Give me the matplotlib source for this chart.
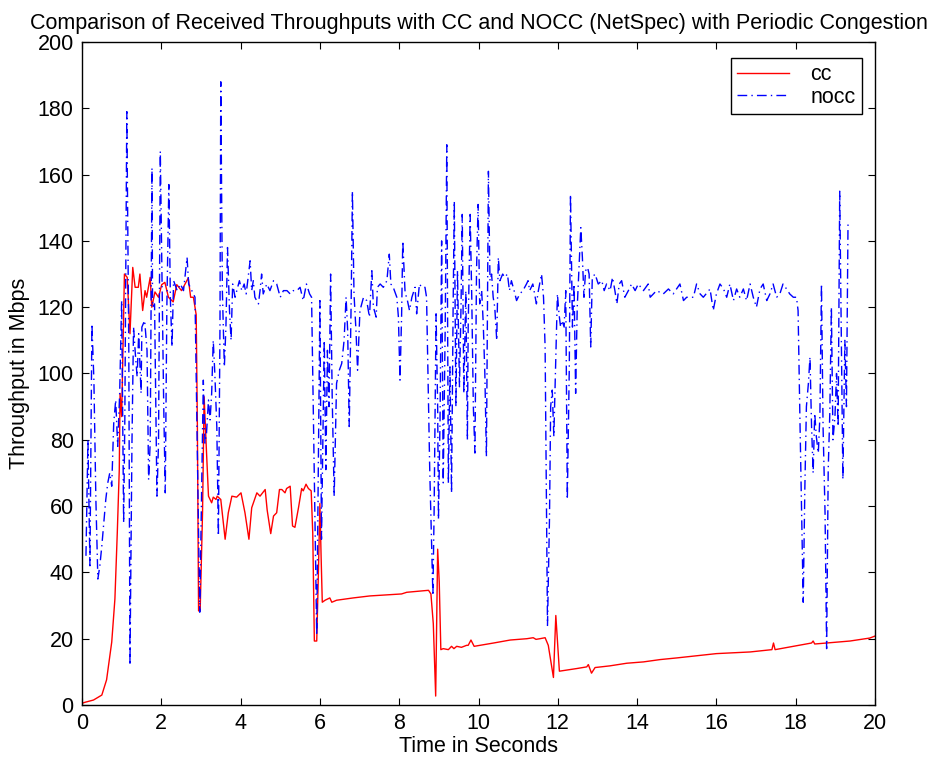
import matplotlib
matplotlib.use("Agg")
import matplotlib.pyplot as plt

plt.rcParams['font.family'] = ['Liberation Sans', 'DejaVu Sans']

# cc (with congestion control) throughput
cc_t = [0, 0.07, 0.29, 0.5, 0.62, 0.75, 0.83, 0.89, 0.94, 0.96,
        1.0, 1.07, 1.14, 1.21, 1.28, 1.34, 1.42, 1.46, 1.53, 1.59,
        1.63, 1.72, 1.76, 1.84, 1.93, 2.01, 2.09, 2.18, 2.30, 2.39,
        2.51, 2.68, 2.74, 2.81, 2.88, 2.91, 2.94, 2.98, 3.04, 3.08,
        3.13, 3.19, 3.27, 3.31, 3.38, 3.41, 3.50, 3.61, 3.69, 3.78,
        3.90, 4.01, 4.11, 4.21, 4.28, 4.41, 4.49, 4.62, 4.67, 4.76,
        4.83, 4.91, 4.98, 5.04, 5.12, 5.16, 5.25, 5.31, 5.37, 5.46,
        5.54, 5.58, 5.65, 5.71, 5.78, 5.82, 5.86, 5.92, 5.96, 6.0,
        6.03, 6.06, 6.13, 6.25, 6.3, 6.42, 6.84, 7.26, 7.68, 8.06,
        8.19, 8.74, 8.8, 8.86, 8.92, 8.97, 9.01, 9.05, 9.11, 9.24,
        9.32, 9.38, 9.45, 9.57, 9.7, 9.74, 9.81, 9.89, 10.38, 10.8,
        11.22, 11.38, 11.45, 11.55, 11.68, 11.76, 11.89, 11.95, 12.04, 12.48,
        12.73, 12.77, 12.85, 12.94, 13.31, 13.74, 14.16, 14.58, 15.0, 16.0,
        16.85, 17.4, 17.44, 17.48, 17.94, 18.4, 18.44, 18.48, 19.37, 19.87,
        20.0]
cc_v = [0.5, 0.8, 1.5, 3, 7.6, 19, 32, 52, 71, 94,
        87, 130, 129, 112, 132, 126, 126, 130, 119, 125,
        123, 129, 120, 124.6, 123, 126.8, 127.5, 123, 121.6, 126.8,
        125, 128.8, 123, 123, 117.7, 84, 28.4, 28.4, 58, 93,
        79, 63, 61, 62.7, 62, 63, 62, 50, 58, 63,
        62.7, 64, 58, 50, 59.5, 64, 63, 65, 58.8, 51.7,
        57, 58, 65, 65, 64, 65.3, 66, 54, 53.6, 59.5,
        65.3, 64.6, 66.6, 65.3, 64.6, 51.7, 19.3, 19.3, 38.7, 60.8,
        45, 31, 31.6, 32.3, 31, 31.6, 32.3, 32.9, 33.2, 33.5,
        34, 34.6, 33.5, 24.5, 2.7, 47, 37, 16.7, 17, 16.7,
        17.7, 17, 17.7, 17.4, 18, 18, 19.6, 17.7, 18.7, 19.6,
        20, 20.3, 19.8, 20, 20.3, 18, 8.3, 27, 10.2, 11,
        11.5, 12.2, 9.6, 11.3, 11.8, 12.6, 13, 13.7, 14.2, 15.5,
        16, 16.7, 18.7, 16.7, 17.7, 18.7, 19.3, 18.4, 19.3, 20.2,
        20.8]

# nocc (no congestion control) throughput
nocc_t = [0.10, 0.15, 0.20, 0.25, 0.30, 0.35, 0.40, 0.45, 0.50, 0.55,
          0.60, 0.65, 0.70, 0.75, 0.80, 0.85, 0.90, 0.95, 1.00, 1.05,
          1.08, 1.13, 1.18, 1.21, 1.26, 1.30, 1.345, 1.39, 1.43, 1.49,
          1.51, 1.58, 1.64, 1.68, 1.72, 1.765, 1.78, 1.83, 1.89, 1.93,
          1.975, 2.02, 2.06, 2.10, 2.14, 2.19, 2.23, 2.27, 2.31, 2.40,
          2.48, 2.56, 2.65, 2.69, 2.77, 2.85,
          2.97, 3.06, 3.10, 3.14, 3.19, 3.23, 3.27, 3.31, 3.35, 3.40,
          3.44, 3.48, 3.50, 3.54, 3.59, 3.63, 3.67, 3.72, 3.76, 3.80,
          3.86, 3.97, 4.03, 4.09, 4.14, 4.19, 4.24, 4.28, 4.32, 4.36,
          4.45, 4.49, 4.53, 4.57, 4.66, 4.74, 4.83, 4.91, 5.0, 5.08,
          5.17, 5.25, 5.33, 5.42, 5.50, 5.58, 5.66, 5.74, 5.79,
          5.92, 6.0, 6.04, 6.11, 6.15, 6.19, 6.23, 6.27, 6.31, 6.36,
          6.42, 6.49, 6.55, 6.61, 6.66, 6.70, 6.74, 6.79, 6.82, 6.86,
          6.91, 6.95, 7.01, 7.10, 7.18, 7.25, 7.31, 7.35, 7.42, 7.45,
          7.52, 7.60, 7.69, 7.75, 7.79, 7.85, 7.94, 7.98, 8.02, 8.06,
          8.09, 8.15, 8.19, 8.26, 8.32, 8.40, 8.44, 8.51, 8.57, 8.65,
          8.69, 8.73, 8.77,
          8.82, 8.85, 8.88, 8.93, 8.97, 8.99, 9.03, 9.07, 9.11, 9.16,
          9.20, 9.24, 9.28, 9.32, 9.36, 9.39, 9.43, 9.47, 9.52, 9.56,
          9.59, 9.63, 9.68, 9.72, 9.74, 9.79, 9.83, 9.87, 9.91, 9.95,
          9.99, 10.03, 10.08, 10.12, 10.16, 10.20, 10.25, 10.29, 10.33, 10.37,
          10.41, 10.46, 10.50, 10.54, 10.61, 10.66, 10.73, 10.78, 10.83, 10.92,
          10.96, 11.04, 11.12, 11.21, 11.25, 11.29, 11.37, 11.46, 11.51, 11.59,
          11.64, 11.68, 11.70,
          11.74, 11.79, 11.82, 11.86, 11.90, 11.94, 11.99, 12.03, 12.07, 12.11,
          12.16, 12.20, 12.24, 12.29, 12.32, 12.37, 12.41, 12.45, 12.49, 12.54,
          12.58, 12.62, 12.66, 12.70, 12.75, 12.79, 12.83, 12.87, 12.94, 13.02,
          13.11, 13.17, 13.23, 13.32, 13.38, 13.44, 13.49, 13.55, 13.61, 13.69,
          13.78, 13.86, 13.95, 14.03, 14.16, 14.28,
          14.33, 14.49, 14.66, 14.79, 14.91, 15.08, 15.17, 15.25, 15.42, 15.50,
          15.59, 15.67, 15.84, 15.92, 16.0, 16.09, 16.18, 16.26, 16.34, 16.43,
          16.51, 16.59, 16.68, 16.76, 16.85, 16.93, 17.01, 17.10, 17.18, 17.27,
          17.35, 17.43, 17.52, 17.60, 17.68, 17.77, 17.85, 17.94, 18.02, 18.06,
          18.11, 18.15, 18.19, 18.23, 18.27, 18.32, 18.36, 18.40, 18.44, 18.48,
          18.52, 18.57, 18.61, 18.65, 18.69, 18.74, 18.78, 18.82, 18.86, 18.90,
          18.94, 18.99, 19.03, 19.07, 19.11, 19.15, 19.19, 19.24, 19.28, 19.32]
nocc_v = [45, 80, 42, 115, 98, 62, 38, 42, 48, 55,
          62, 67, 70, 66, 85, 92, 78, 94, 122, 55,
          86, 179, 108, 12, 79, 114, 106, 99, 112, 94,
          114, 116, 107, 68, 79, 162, 120, 121, 63, 79,
          167, 128, 91, 64, 120, 157, 122, 108, 128, 125,
          127, 125, 135, 127, 125, 123,
          28, 98, 79, 82, 92, 86, 94, 110, 100, 84,
          51, 114, 188, 125, 102, 114, 138, 119, 110, 127,
          123, 128, 125, 127, 124, 129, 134, 125, 128, 123,
          121, 125, 130, 124, 127, 125, 128, 127, 123, 125,
          125, 124, 125, 125, 126, 122, 127, 124, 123,
          21, 122, 50, 110, 71, 107, 90, 130, 93, 63,
          97, 101, 103, 110, 123, 113, 84, 123, 155, 124,
          113, 101, 119, 123, 122, 117, 131, 120, 117, 126,
          127, 126, 128, 136, 127, 126, 123, 117, 98, 117,
          140, 124, 123, 119, 123, 126, 118, 127, 126, 126,
          123, 97, 71,
          48, 33, 58, 118, 90, 56, 86, 140, 67, 114,
          169, 67, 102, 64, 120, 152, 90, 131, 96, 121,
          148, 94, 125, 80, 114, 148, 123, 90, 76, 131,
          151, 121, 125, 115, 100, 75, 161, 128, 130, 123,
          120, 110, 135, 128, 130, 129, 130, 125, 128, 124,
          122, 124, 125, 127, 128, 125, 127, 121, 125, 130,
          123, 108, 79,
          24, 56, 90, 95, 81, 100, 124, 118, 114, 116,
          114, 125, 62, 102, 154, 114, 127, 94, 120, 133,
          144, 135, 123, 131, 132, 130, 108, 129, 130, 127,
          128, 125, 127, 125, 129, 125, 121, 127, 128, 123,
          125, 127, 125, 127, 125, 127,
          123, 125, 124, 125.5, 124, 127, 122, 123, 123, 127,
          124, 123, 125.5, 119, 124, 127, 125.5, 123, 127, 122,
          125.5, 123, 125.5, 122, 127, 123, 120, 125.5, 127, 122,
          124, 127, 123, 124, 127, 125.5, 124, 123, 123, 119,
          84, 58, 31, 65, 90, 97, 105, 84, 70, 88,
          81, 76, 87, 127, 84, 58, 17, 71, 88, 120,
          80, 87, 100, 84, 155, 110, 68, 110, 90, 146]

fs = 15.5

fig = plt.figure(figsize=(9.43, 7.61), dpi=100)
ax = fig.add_axes([82/943, 1-705/761, (875-82)/943, (705-42)/761])

ax.plot(cc_t, cc_v, color='red', lw=1.0, label='cc')
ax.plot(nocc_t, nocc_v, color='blue', lw=1.0, linestyle=(0, (7, 3, 1, 3)), label='nocc')

ax.set_xlim(0, 20)
ax.set_ylim(0, 200)
ax.set_xticks(range(0, 21, 2))
ax.set_yticks(range(0, 201, 20))
ax.tick_params(direction='in', top=True, right=True, length=5, labelsize=fs, pad=6)
for s in ax.spines.values():
    s.set_linewidth(1.0)

ax.set_xlabel("Time in Seconds", fontsize=fs, labelpad=1)
ax.set_ylabel("Throughput in Mbps", fontsize=fs, labelpad=5)
ax.set_title("Comparison of Received Throughputs with CC and NOCC (NetSpec) with Periodic Congestion",
             fontsize=fs, pad=9)

leg = ax.legend(loc='upper right', bbox_to_anchor=(862/943, 1-58/761), bbox_transform=fig.transFigure,
                borderaxespad=0, fancybox=False, framealpha=1, edgecolor='black',
                fontsize=fs, handlelength=2.4, handletextpad=1.0, borderpad=0.3, labelspacing=0.05)
leg.get_frame().set_linewidth(1.0)

fig.savefig("out.png", dpi=100)
